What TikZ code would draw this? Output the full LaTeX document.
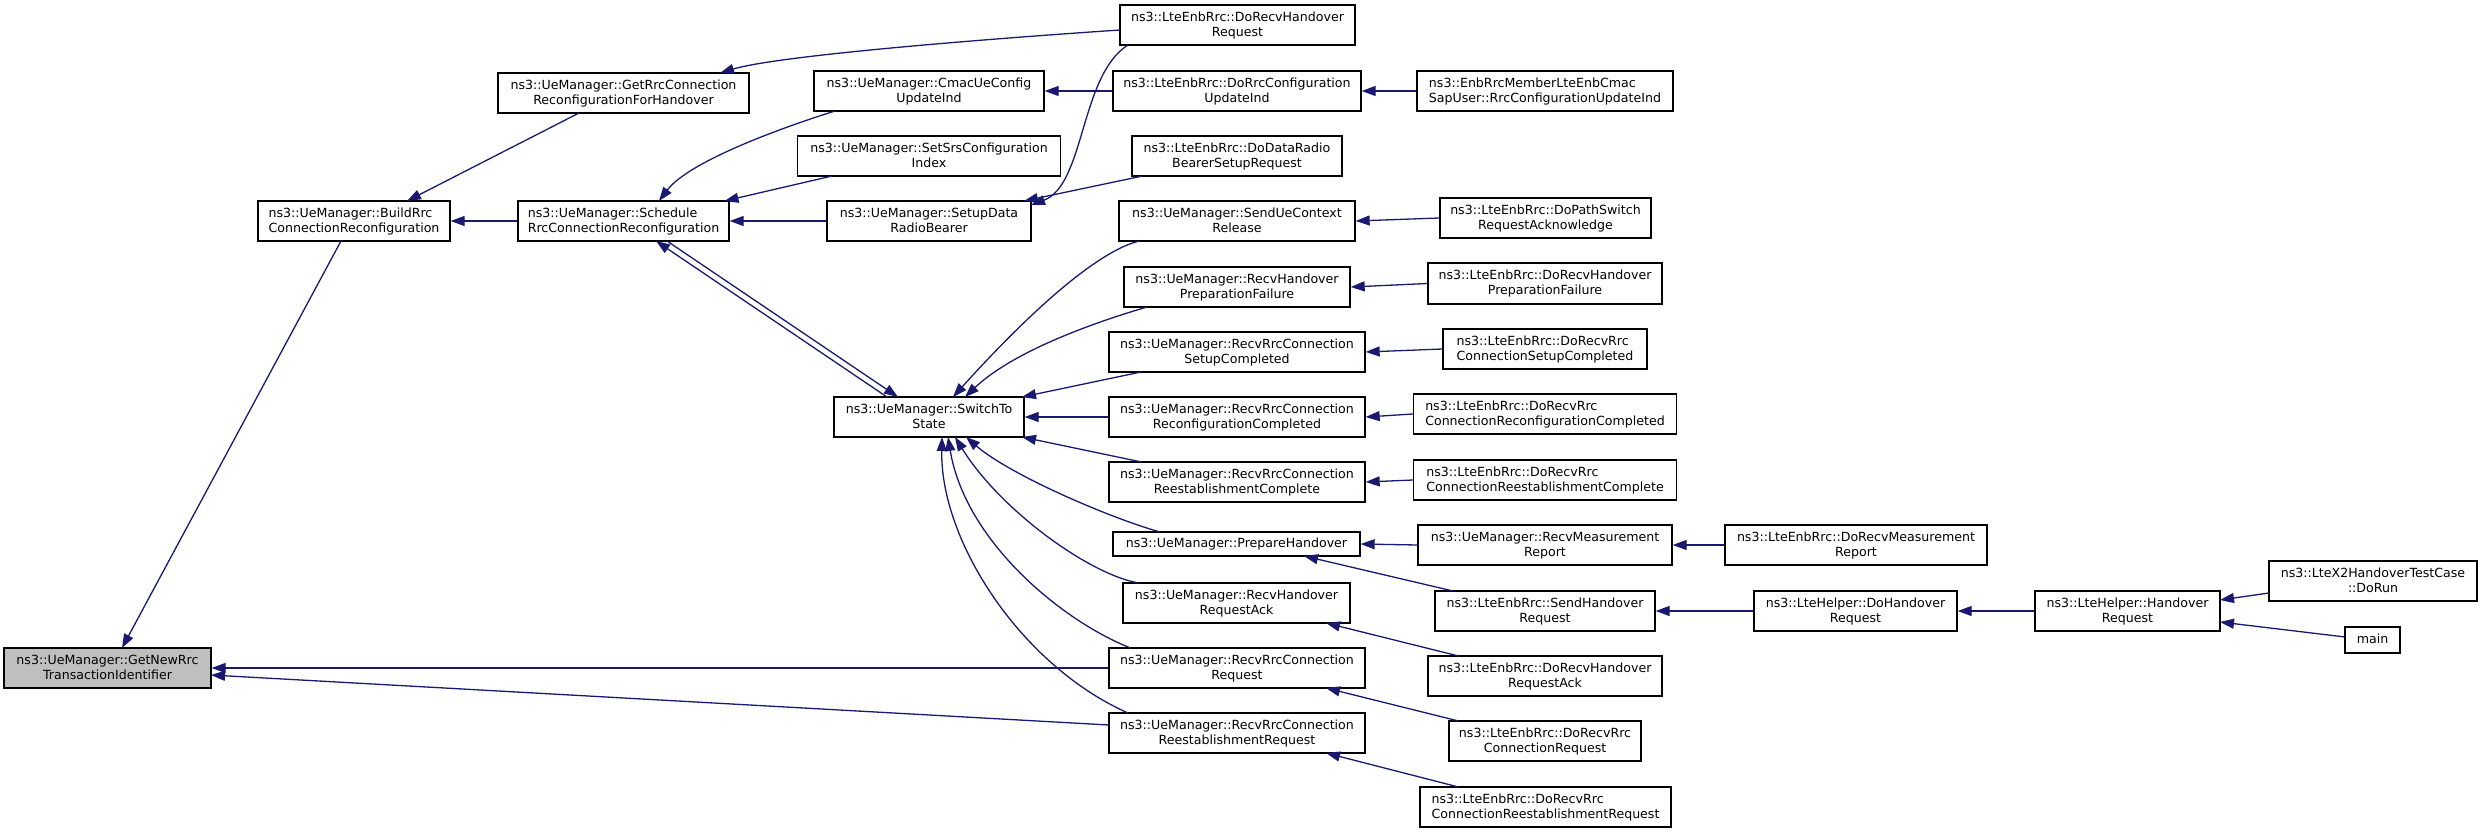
\documentclass[tikz,border=0pt]{standalone}
\usepackage{fontspec}
\setmainfont{DejaVu Sans}
\usetikzlibrary{arrows.meta,calc}
\definecolor{edgec}{HTML}{191970}
\definecolor{hl}{HTML}{BFBFBF}
\newcommand\graphfont{\fontsize{12.6}{15}\selectfont\lineskiplimit=-100pt\relax}
\tikzset{
  fnbox/.style={draw=black, line width=1.3pt, fill=white, inner sep=0pt, align=center,
    font=\graphfont, text depth=2pt},
  conn/.style={draw=edgec, line width=1.3pt, -{Triangle[length=14pt,width=10pt]}}
}
\newcommand\mknode[7][]{\node[fnbox,#1,minimum width=#4pt-#2pt,minimum height=#5pt-#3pt] (#6) at ({(#2+#4)/2},{(#3+#5)/2}) {#7};}
\begin{document}
\begin{tikzpicture}[x=1pt,y=-1pt]
\useasboundingbox (0,0) rectangle (2483,832);
\mknode[fill=hl]{4}{648}{211}{688}{n0}{ns3::UeManager::GetNewRrc\\TransactionIdentifier}
\mknode[align=left]{258}{201}{450}{241}{n1}{ns3::UeManager::BuildRrc\\ConnectionReconfiguration}
\mknode{498}{73}{749}{113}{n2}{ns3::UeManager::GetRrcConnection\\ReconfigurationForHandover}
\mknode[align=left]{518}{201}{729}{241}{n3}{ns3::UeManager::Schedule\\RrcConnectionReconfiguration}
\mknode{834}{397}{1024}{437}{n4}{ns3::UeManager::SwitchTo\\State}
\mknode{814}{71}{1044}{111}{n5}{ns3::UeManager::CmacUeConfig\\UpdateInd}
\mknode{797.5}{136}{1060.5}{176}{n6}{ns3::UeManager::SetSrsConfiguration\\Index}
\mknode{827}{201}{1031}{241}{n7}{ns3::UeManager::SetupData\\RadioBearer}
\mknode{1120}{5}{1355}{45}{n8}{ns3::LteEnbRrc::DoRecvHandover\\Request}
\mknode{1113}{71}{1361}{111}{n9}{ns3::LteEnbRrc::DoRrcConfiguration\\UpdateInd}
\mknode{1132}{136}{1342}{176}{n10}{ns3::LteEnbRrc::DoDataRadio\\BearerSetupRequest}
\mknode{1119}{201}{1355}{241}{n11}{ns3::UeManager::SendUeContext\\Release}
\mknode{1124}{267}{1350}{307}{n12}{ns3::UeManager::RecvHandover\\PreparationFailure}
\mknode{1109}{332}{1365}{372}{n13}{ns3::UeManager::RecvRrcConnection\\SetupCompleted}
\mknode{1109}{397}{1365}{437}{n14}{ns3::UeManager::RecvRrcConnection\\ReconfigurationCompleted}
\mknode{1109}{462}{1365}{502}{n15}{ns3::UeManager::RecvRrcConnection\\ReestablishmentComplete}
\mknode{1113}{532}{1360}{556}{n16}{ns3::UeManager::PrepareHandover}
\mknode{1123}{583}{1350}{623}{n17}{ns3::UeManager::RecvHandover\\RequestAck}
\mknode{1109}{648}{1365}{688}{n18}{ns3::UeManager::RecvRrcConnection\\Request}
\mknode{1109}{713}{1365}{753}{n19}{ns3::UeManager::RecvRrcConnection\\ReestablishmentRequest}
\mknode[align=left]{1417}{71}{1673}{111}{n20}{ns3::EnbRrcMemberLteEnbCmac\\SapUser::RrcConfigurationUpdateInd}
\mknode{1440}{198}{1651}{238}{n21}{ns3::LteEnbRrc::DoPathSwitch\\RequestAcknowledge}
\mknode{1428}{263}{1662}{304}{n22}{ns3::LteEnbRrc::DoRecvHandover\\PreparationFailure}
\mknode[align=left]{1443}{329}{1647}{369}{n23}{ns3::LteEnbRrc::DoRecvRrc\\ConnectionSetupCompleted}
\mknode[align=left]{1413.5}{394}{1676.5}{434}{n24}{ns3::LteEnbRrc::DoRecvRrc\\ConnectionReconfigurationCompleted}
\mknode[align=left]{1413.5}{460}{1676.5}{500}{n25}{ns3::LteEnbRrc::DoRecvRrc\\ConnectionReestablishmentComplete}
\mknode{1418}{525}{1672}{565}{n26}{ns3::UeManager::RecvMeasurement\\Report}
\mknode{1435}{591}{1655}{631}{n27}{ns3::LteEnbRrc::SendHandover\\Request}
\mknode{1428}{656}{1662}{696}{n28}{ns3::LteEnbRrc::DoRecvHandover\\RequestAck}
\mknode{1449}{721}{1641}{761}{n29}{ns3::LteEnbRrc::DoRecvRrc\\ConnectionRequest}
\mknode[align=left]{1420}{787}{1671}{827}{n30}{ns3::LteEnbRrc::DoRecvRrc\\ConnectionReestablishmentRequest}
\mknode{1725}{525}{1987}{565}{n31}{ns3::LteEnbRrc::DoRecvMeasurement\\Report}
\mknode{1754}{591}{1957}{631}{n32}{ns3::LteHelper::DoHandover\\Request}
\mknode{2035}{591}{2220}{631}{n33}{ns3::LteHelper::Handover\\Request}
\mknode{2269}{561}{2477}{601}{n34}{ns3::LteX2HandoverTestCase\\::DoRun}
\mknode{2345}{627}{2400}{653}{n35}{main}
% edges
\draw[conn] ($(n1.center)+(-13,20)$) -- ($(n0.center)+(14.5,-20)$);
\draw[conn] (n18.west) -- (n0.east);
\draw[conn] ($(n19.center)+(-128,-8)$) -- ($(n0.center)+(103.5,7)$);
\draw[conn] ($(n2.center)+(-44.5,20)$) -- ($(n1.center)+(53,-20)$);
\draw[conn] (n3.west) -- (n1.east);
\draw[conn] ($(n8.center)+(-117.5,5)$) .. controls (1000,38) and (780,55) .. ($(n2.center)+(96.5,-20)$);
\draw[conn] ($(n5.center)+(-94,20)$) .. controls (790,125) and (690,160) .. ($(n3.center)+(35.5,-20)$);
\draw[conn] ($(n6.center)+(-97,20)$) -- ($(n3.center)+(101,-20)$);
\draw[conn] (n7.west) -- (n3.east);
\draw[conn] ($(n4.center)+(-42,-20)$) -- ($(n3.center)+(32.5,20)$);
\draw[conn] ($(n3.center)+(43.5,20)$) -- ($(n4.center)+(-31,-20)$);
\draw[conn] ($(n8.center)+(-109.5,20)$) .. controls (1080,75) and (1085,185) .. ($(n7.center)+(102,-16)$);
\draw[conn] ($(n10.center)+(-94.5,20)$) -- ($(n7.center)+(95,-20)$);
\draw[conn] (n9.west) -- (n5.east);
\draw[conn] (n20.west) -- (n9.east);
\draw[conn] ($(n11.center)+(-98,20)$) .. controls (1085,255) and (1000,345) .. ($(n4.center)+(24,-20)$);
\draw[conn] ($(n12.center)+(-90,20)$) .. controls (1120,315) and (1020,345) .. ($(n4.center)+(36,-20)$);
\draw[conn] ($(n13.center)+(-96,20)$) -- ($(n4.center)+(93,-20)$);
\draw[conn] (n14.west) -- (n4.east);
\draw[conn] ($(n15.center)+(-95.5,-20)$) -- ($(n4.center)+(93,20)$);
\draw[conn] ($(n16.center)+(-76.5,-12)$) .. controls (1110,518) and (1010,475) .. ($(n4.center)+(37,20)$);
\draw[conn] ($(n17.center)+(-97.5,-20)$) .. controls (1090,575) and (1000,510) .. ($(n4.center)+(26,20)$);
\draw[conn] ($(n18.center)+(-106.5,-20)$) .. controls (1060,620) and (965,540) .. ($(n4.center)+(19,20)$);
\draw[conn] ($(n19.center)+(-109,-20)$) .. controls (1020,665) and (940,540) .. ($(n4.center)+(13,20)$);
\draw[conn] (n21.west) -- (n11.east);
\draw[conn] (n22.west) -- (n12.east);
\draw[conn] (n23.west) -- (n13.east);
\draw[conn] (n24.west) -- (n14.east);
\draw[conn] (n25.west) -- (n15.east);
\draw[conn] (n26.west) -- (n16.east);
\draw[conn] ($(n27.center)+(-92,-20)$) -- ($(n16.center)+(67.5,12)$);
\draw[conn] ($(n28.center)+(-86.5,-20)$) -- ($(n17.center)+(89.5,20)$);
\draw[conn] ($(n29.center)+(-86.5,-20)$) -- ($(n18.center)+(89,20)$);
\draw[conn] ($(n30.center)+(-87,-20)$) -- ($(n19.center)+(89,20)$);
\draw[conn] (n31.west) -- (n26.east);
\draw[conn] (n32.west) -- (n27.east);
\draw[conn] (n33.west) -- (n32.east);
\draw[conn] ($(n34.center)+(-104,12)$) -- ($(n33.center)+(92.5,-11)$);
\draw[conn] ($(n35.center)+(-27.5,-3)$) -- ($(n33.center)+(92.5,11)$);
\end{tikzpicture}
\end{document}
